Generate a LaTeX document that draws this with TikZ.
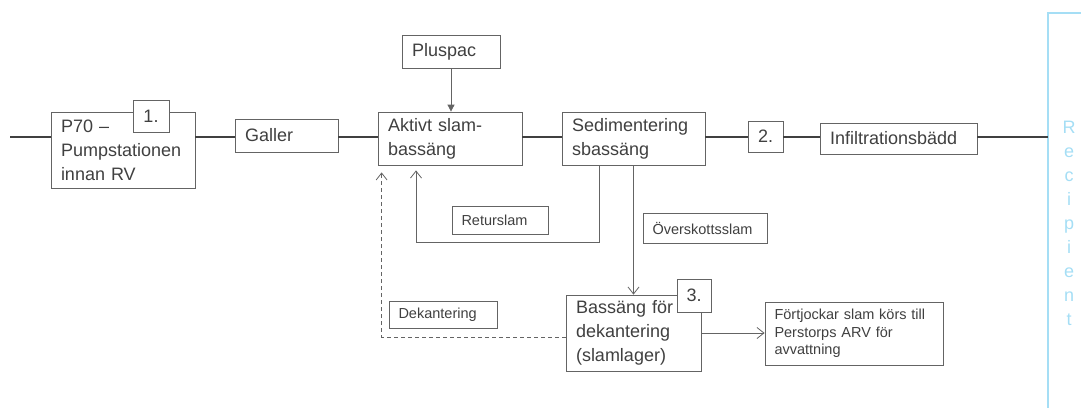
\documentclass[tikz,border=0pt]{standalone}
\usepackage{fontspec}
\setmainfont{Liberation Sans}
\usetikzlibrary{arrows.meta}
\definecolor{txtgray}{RGB}{64,64,64}
\definecolor{linegray}{RGB}{64,64,64}
\definecolor{boxgray}{RGB}{100,100,100}
\definecolor{recipblue}{RGB}{165,222,245}
\tikzset{
  stage/.style={draw=boxgray, line width=0.8pt, fill=white, text=txtgray, inner xsep=10pt, inner ysep=0pt, align=left, font=\fontsize{18}{24}\selectfont},
  tag/.style={draw=boxgray, line width=0.8pt, fill=white, text=txtgray, inner xsep=9.5pt, inner ysep=0pt, align=left, font=\fontsize{14.5}{17.5}\selectfont},
  num/.style={draw=boxgray, line width=0.8pt, fill=white, text=txtgray, inner sep=0pt, font=\fontsize{18}{24}\selectfont},
  flow/.style={draw=linegray, line width=1.3pt},
  feed/.style={draw=boxgray, line width=0.8pt, -{Straight Barb[length=7pt,width=11pt]}},
}
\begin{document}
\begin{tikzpicture}[x=1pt,y=-1pt]
\useasboundingbox (0,0) rectangle (1081,407);

% process line
\node[stage, text width=124pt, minimum height=76pt] (p70) at (123,150) {P70 –\\Pumpstationen\\innan RV};
\node[num, minimum width=36pt, minimum height=32pt] (n1) at (151,116) {1.};
\node[stage, text width=83pt, minimum height=33pt] (galler) at (286.5,135.5) {Galler};
\node[stage, text width=78pt, minimum height=33pt] (pluspac) at (451,51.5) {Pluspac};
\node[stage, text width=124pt, minimum height=53pt] (aktivt) at (450,138.5) {Aktivt slam-\\bassäng};
\node[stage, text width=123pt, minimum height=53pt] (sedim) at (633.5,138.5) {Sedimentering\\sbassäng};
\node[num, minimum width=35pt, minimum height=31pt] (n2) at (765.5,136.5) {2.};
\node[stage, text width=137pt, minimum height=31pt] (infilt) at (898.5,138.5) {Infiltrationsbädd};

% sludge handling
\node[stage, text width=115pt, minimum height=76pt] (bassang) at (633.5,333) {Bassäng för\\dekantering\\(slamlager)};
\node[num, minimum width=34pt, minimum height=33pt] (n3) at (694,295.5) {3.};
\node[tag, text width=77pt, minimum height=28pt] (retur) at (500,220) {Returslam};
\node[tag, text width=105pt, minimum height=30pt] (oversk) at (705,228) {Överskottsslam};
\node[tag, text width=89pt, minimum height=27pt] (dekant) at (443,314.5) {Dekantering};
\node[tag, text width=159pt, minimum height=63pt] (fortj) at (854,333.5) {Förtjockar slam körs till\\Perstorps ARV för\\avvattning};

% recipient
\coordinate (inlet) at (10,137);
\coordinate (outlet) at (1048,137);
\draw[recipblue, line width=1.2pt] (1095,13) -- (1048,13) -- (1048,420);
\foreach \ch [count=\i from 0] in {R,e,c,i,p,i,e,n,t}
  \node[text=recipblue, font=\fontsize{18}{18}\selectfont, anchor=base, inner sep=0pt] (r\i) at (1069,133+24*\i) {\ch};

% connectors
\draw[flow] (inlet) -- (inlet -| p70.west);
\draw[flow] (inlet -| p70.east) -- (inlet -| galler.west);
\draw[flow] (inlet -| galler.east) -- (inlet -| aktivt.west);
\draw[flow] (inlet -| aktivt.east) -- (inlet -| sedim.west);
\draw[flow] (inlet -| sedim.east) -- (inlet -| n2.west);
\draw[flow] (inlet -| n2.east) -- (inlet -| infilt.west);
\draw[flow] (inlet -| infilt.east) -- (outlet);
\draw[boxgray, line width=0.8pt, -{Triangle[length=7pt,width=7pt]}] (pluspac.south) -- (pluspac.south |- aktivt.north);
\draw[feed, shorten >=5pt] ([xshift=-34pt]sedim.south) -- ++(0,77) -| ([xshift=-34pt]aktivt.south);
\draw[feed] (sedim.south) -- (sedim.south |- bassang.north);
\draw[feed, dash pattern=on 4pt off 3pt, shorten >=7pt] ([yshift=-4pt]bassang.west) -| ([xshift=4pt]aktivt.south west);
\draw[feed] (bassang.east) -- (bassang.east -| fortj.west);
\end{tikzpicture}
\end{document}
